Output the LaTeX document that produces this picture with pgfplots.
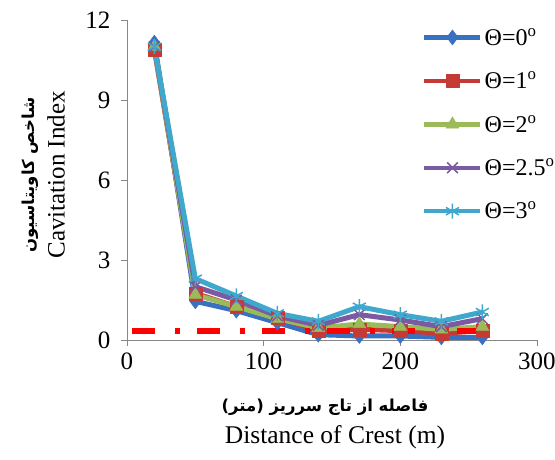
\documentclass[border=0pt]{standalone}
\usepackage{fontspec}
\setmainfont{Liberation Serif}
\newfontfamily\arabicfont[Script=Arabic]{DejaVu Sans}
\TeXXeTstate=1
\usepackage{pgfplots}
\pgfplotsset{compat=1.18}
\definecolor{sBlue}{HTML}{3A70C0}
\definecolor{sRed}{HTML}{C63A36}
\definecolor{sGreen}{HTML}{9BBB59}
\definecolor{sPurple}{HTML}{7A5AA0}
\definecolor{sCyan}{HTML}{3FA8CC}
\definecolor{axgrey}{HTML}{888888}
\begin{document}
\begin{tikzpicture}
\begin{axis}[
  at={(0,0)}, anchor=south west,
  scale only axis, width=410pt, height=320pt,
  xmin=0, xmax=300, ymin=0, ymax=12,
  xtick={0,100,200,300}, ytick={0,3,6,9,12},
  axis x line=bottom, axis y line=left,
  axis line style={-, axgrey, line width=0.8pt},
  tick align=outside, major tick length=6pt,
  tick style={axgrey, line width=0.8pt},
  every tick label/.append style={font=\fontsize{25}{28}\selectfont, black},
  xticklabel style={yshift=-3pt},
  yticklabel style={xshift=-7pt},
  /pgf/number format/assume math mode=true,
  clip=false,
  legend style={at={(292pt,316pt)}, anchor=north west, draw=none, fill=none,
    font=\fontsize{24}{27}\selectfont, row sep=21pt,
    legend cell align=left},
  legend image code/.code={\draw[mark repeat=2,mark phase=2,line width=4.5pt] plot coordinates {(0pt,0pt) (28pt,0pt) (56pt,0pt)};},
  every axis plot/.append style={line width=5pt, line join=round},
]
\addplot[sBlue, mark=diamond*, mark size=7.5pt, mark options={solid,line width=0.5pt}] coordinates {
(20,11.15) (50,1.45) (80,1.1) (110,0.65) (140,0.2) (170,0.15) (200,0.15) (230,0.1) (260,0.1)};
\addlegendentry{Θ=0\textsuperscript{o}}
\addplot[sRed, mark=square*, mark size=6.5pt, mark options={solid,line width=0.5pt}] coordinates {
(20,10.9) (50,1.75) (80,1.25) (110,0.85) (140,0.35) (170,0.4) (200,0.35) (230,0.25) (260,0.35)};
\addlegendentry{Θ=1\textsuperscript{o}}
\addplot[sGreen, mark=triangle*, mark size=7.5pt, mark options={solid,line width=0.5pt}] coordinates {
(20,11.0) (50,1.7) (80,1.25) (110,0.8) (140,0.45) (170,0.6) (200,0.5) (230,0.4) (260,0.5)};
\addlegendentry{Θ=2\textsuperscript{o}}
\addplot[sPurple, mark=x, mark size=7.5pt, mark options={solid,line width=1.5pt}] coordinates {
(20,11.0) (50,2.0) (80,1.5) (110,0.9) (140,0.55) (170,0.95) (200,0.75) (230,0.5) (260,0.8)};
\addlegendentry{Θ=2.5\textsuperscript{o}}
\addplot[sCyan, mark=asterisk, mark size=7.5pt, mark options={solid,line width=1.5pt}] coordinates {
(20,11.0) (50,2.3) (80,1.65) (110,1.0) (140,0.7) (170,1.25) (200,0.95) (230,0.7) (260,1.05)};
\addlegendentry{Θ=3\textsuperscript{o}}
\addplot[red, line width=5.5pt, line cap=butt, dash pattern=on 23pt off 20pt on 5pt off 17pt, forget plot] coordinates {(4,0.33) (272,0.33)};
\end{axis}
\node[rotate=90, font=\arabicfont\bfseries\fontsize{16.5}{19}\selectfont] at (-97pt,165pt) {\beginR شاخص کاویتاسیون\endR};
\node[rotate=90, font=\fontsize{25}{29}\selectfont] at (-71pt,165pt) {Cavitation Index};
\node[font=\arabicfont\bfseries\fontsize{16.5}{19}\selectfont] at (198pt,-67pt) {\beginR فاصله از تاج سرریز (متر)\endR};
\node[font=\fontsize{25.5}{29}\selectfont] at (208pt,-97pt) {Distance of Crest (m)};
\pgfresetboundingbox
\path[use as bounding box] (-127pt,-120pt) rectangle (428pt,340pt);
\end{tikzpicture}
\end{document}
